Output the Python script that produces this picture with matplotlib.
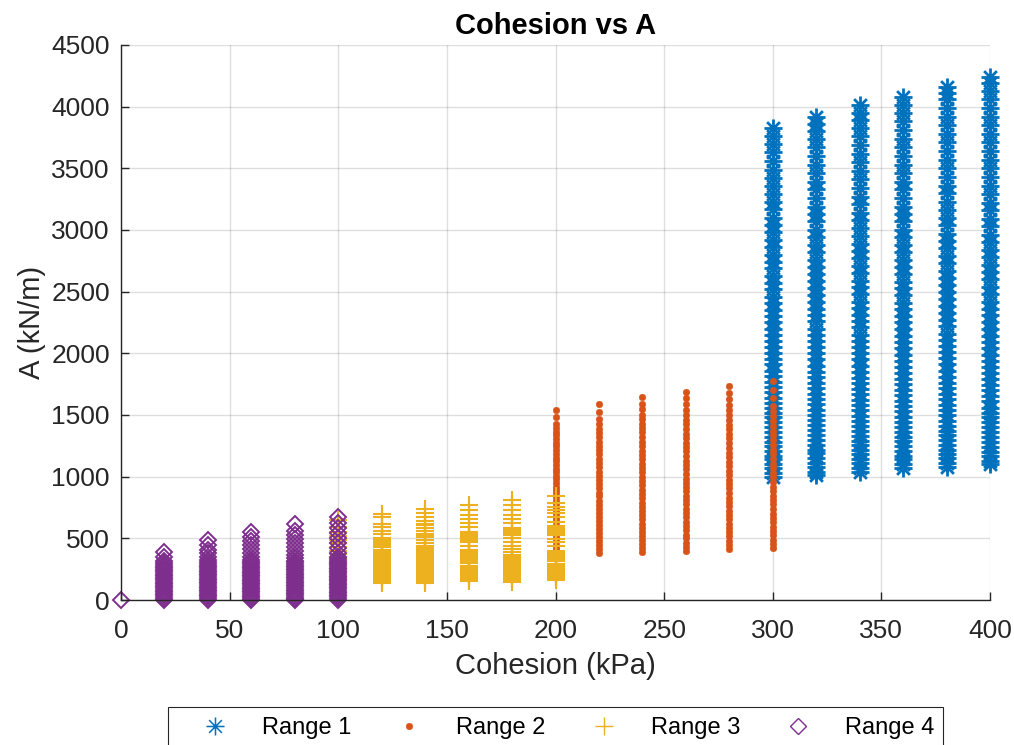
import matplotlib
matplotlib.use("Agg")
import matplotlib.pyplot as plt
from matplotlib.path import Path
from matplotlib.patches import Rectangle

plt.rcParams['font.family'] = ['Liberation Sans', 'DejaVu Sans']

# Range 1 (c = 300..400 kPa)
r1_c = [300, 320, 340, 360, 380, 400]
r1_a = [
    [1000, 1030, 1070, 1100, 1140, 1170, 1210, 1250, 1280, 1320, 1360, 1400, 1440, 1480, 1520,
     1560, 1600, 1640, 1690, 1730, 1770, 1820, 1860, 1910, 1950, 2000, 2050, 2100, 2150, 2200,
     2250, 2300, 2350, 2410, 2460, 2520, 2570, 2630, 2690, 2740, 2800, 2860, 2920, 2980, 3040,
     3100, 3170, 3230, 3290, 3360, 3420, 3490, 3560, 3630, 3700, 3760, 3830],
    [1010, 1040, 1080, 1110, 1150, 1190, 1220, 1260, 1300, 1340, 1380, 1420, 1460, 1500, 1540,
     1590, 1630, 1670, 1720, 1760, 1810, 1850, 1900, 1950, 2000, 2050, 2100, 2150, 2200, 2260,
     2310, 2360, 2420, 2470, 2530, 2590, 2640, 2700, 2760, 2820, 2880, 2940, 3000, 3070, 3130,
     3190, 3260, 3330, 3390, 3460, 3530, 3600, 3670, 3740, 3800, 3860, 3920],
    [1040, 1070, 1110, 1140, 1180, 1220, 1260, 1290, 1330, 1370, 1410, 1450, 1490, 1540, 1580,
     1620, 1670, 1710, 1760, 1800, 1850, 1900, 1950, 2000, 2050, 2100, 2150, 2210, 2260, 2310,
     2370, 2420, 2480, 2540, 2590, 2650, 2710, 2770, 2830, 2890, 2950, 3020, 3080, 3140, 3210,
     3270, 3340, 3410, 3480, 3550, 3620, 3690, 3760, 3830, 3890, 3950, 4010],
    [1070, 1100, 1140, 1170, 1210, 1250, 1290, 1320, 1360, 1400, 1440, 1480, 1530, 1570, 1610,
     1660, 1700, 1750, 1790, 1840, 1890, 1940, 1990, 2040, 2090, 2140, 2200, 2250, 2300, 2360,
     2410, 2470, 2530, 2580, 2640, 2700, 2760, 2820, 2880, 2940, 3000, 3070, 3130, 3190, 3260,
     3330, 3390, 3460, 3530, 3600, 3670, 3740, 3810, 3880, 3950, 4010, 4080],
    [1080, 1110, 1150, 1180, 1220, 1260, 1300, 1340, 1370, 1410, 1450, 1500, 1540, 1580, 1630,
     1670, 1720, 1760, 1810, 1860, 1910, 1960, 2010, 2060, 2110, 2160, 2220, 2270, 2330, 2380,
     2440, 2500, 2550, 2610, 2670, 2730, 2790, 2850, 2910, 2970, 3040, 3100, 3160, 3230, 3300,
     3360, 3430, 3500, 3570, 3640, 3710, 3780, 3850, 3920, 3990, 4060, 4110, 4160],
    [1100, 1130, 1170, 1200, 1240, 1280, 1320, 1360, 1400, 1440, 1480, 1520, 1560, 1610, 1650,
     1700, 1740, 1790, 1840, 1890, 1940, 1990, 2040, 2090, 2140, 2200, 2250, 2310, 2360, 2420,
     2480, 2540, 2600, 2660, 2720, 2780, 2840, 2900, 2960, 3030, 3090, 3160, 3220, 3290, 3360,
     3430, 3500, 3570, 3640, 3710, 3780, 3850, 3920, 3990, 4060, 4130, 4190, 4240],
]

# Range 2 (c = 200..300 kPa)
r2_c = [200, 220, 240, 260, 280, 300]
r2_a = [
    [370, 395, 420, 450, 475, 500, 530, 555, 585, 610, 640, 665, 695, 720, 750, 780, 805, 835,
     865, 890, 920, 950, 980, 1005, 1035, 1065, 1095, 1125, 1155, 1185, 1215, 1245, 1275, 1305,
     1335, 1365, 1395, 1430, 1485, 1538],
    [380, 410, 445, 475, 510, 540, 575, 605, 640, 670, 705, 740, 770, 805, 840, 870, 905, 940,
     975, 1005, 1040, 1075, 1110, 1145, 1180, 1215, 1250, 1285, 1320, 1355, 1390, 1425, 1467,
     1521, 1586],
    [388, 420, 455, 485, 520, 555, 585, 620, 655, 690, 720, 755, 790, 825, 860, 895, 930, 965,
     1000, 1035, 1070, 1105, 1140, 1175, 1210, 1250, 1285, 1320, 1360, 1395, 1430, 1465, 1500,
     1545, 1592, 1643],
    [397, 430, 465, 500, 530, 565, 600, 635, 670, 705, 740, 775, 810, 845, 880, 915, 950, 985,
     1020, 1060, 1095, 1130, 1165, 1205, 1240, 1275, 1315, 1350, 1390, 1425, 1460, 1500, 1540,
     1590, 1635, 1683],
    [413, 445, 480, 515, 550, 585, 620, 655, 690, 725, 760, 795, 830, 865, 905, 940, 975, 1010,
     1050, 1085, 1120, 1160, 1195, 1235, 1270, 1310, 1345, 1385, 1420, 1460, 1500, 1540, 1585,
     1630, 1680, 1732],
    [421, 455, 490, 525, 560, 595, 630, 665, 700, 740, 775, 810, 845, 885, 920, 955, 995, 1030,
     1070, 1105, 1145, 1180, 1220, 1255, 1295, 1335, 1370, 1410, 1450, 1490, 1530, 1574, 1634,
     1702, 1772],
]

# Range 3 (c = 100..200 kPa)
r3_c = [100, 120, 140, 160, 180, 200]
r3_a = [
    [130, 160, 190, 220, 250, 280, 310, 340, 370, 400, 430, 460, 490, 520, 553, 594, 648],
    [697, 670, 616, 589, 559, 532, 505, 492, 479, 466, 452, 438, 428, 408, 395, 381, 368, 354,
     340, 326, 313, 299, 285, 271, 258, 244, 230, 216, 203, 189, 175, 161, 150, 140],
    [737, 702, 670, 643, 620, 612, 586, 562, 532, 520, 513, 486, 459, 440, 424, 411, 398, 384,
     370, 356, 343, 329, 315, 302, 288, 274, 260, 247, 233, 219, 206, 192, 178, 165, 152, 140],
    [770, 729, 689, 654, 627, 594, 554, 541, 527, 514, 500, 486, 467, 440, 405, 392, 378, 364,
     351, 337, 324, 310, 297, 278, 265, 251, 237, 224, 210, 196, 183, 170, 156],
    [810, 770, 729, 689, 654, 627, 586, 572, 558, 544, 527, 500, 467, 440, 413, 386, 365, 352,
     338, 324, 311, 297, 283, 270, 256, 242, 229, 215, 201, 188, 174, 162, 149],
    [845, 789, 756, 729, 702, 670, 635, 600, 587, 573, 560, 546, 540, 527, 494, 467, 440, 397,
     384, 370, 356, 343, 329, 316, 292, 279, 265, 251, 238, 224, 210, 197, 183, 170, 162],
]

# Range 4 (c = 0..100 kPa)
r4_c = [0, 20, 40, 60, 80, 100]
r4_a = [
    [0],
    [386, 351, 319, 297, 283, 270, 258, 245, 232, 219, 206, 193, 180, 167, 154, 141, 128, 115,
     102, 89, 76, 63, 50, 37, 24, 12, 0],
    [486, 446, 405, 378, 351, 324, 305, 290, 277, 264, 251, 238, 225, 212, 199, 186, 173, 160,
     147, 134, 121, 108, 95, 82, 69, 56, 43, 30, 15, 0],
    [554, 513, 481, 446, 411, 378, 350, 325, 310, 296, 283, 270, 257, 244, 231, 218, 205, 192,
     179, 166, 153, 140, 127, 114, 101, 88, 75, 62, 49, 36, 23, 11, 0],
    [616, 562, 527, 492, 459, 427, 400, 365, 340, 320, 306, 292, 279, 266, 253, 240, 227, 214,
     201, 188, 175, 162, 149, 136, 123, 110, 97, 84, 71, 58, 45, 32, 19, 8, 0],
    [675, 621, 581, 540, 500, 459, 419, 378, 350, 330, 316, 302, 289, 276, 263, 250, 237, 224,
     211, 198, 185, 172, 159, 146, 133, 120, 107, 94, 81, 68, 55, 42, 29, 16, 0],
]

labels = ['Range 1', 'Range 2', 'Range 3', 'Range 4']


def flatten(cols, vals):
    xs, ys = [], []
    for c, v in zip(cols, vals):
        xs += [c] * len(v)
        ys += v
    return xs, ys


# matlab-style asterisk: 8 spokes
d = 0.7071
asterisk = Path([(-1, 0), (1, 0), (0, -1), (0, 1), (-d, -d), (d, d), (-d, d), (d, -d)],
                [Path.MOVETO, Path.LINETO] * 4)

fig = plt.figure(figsize=(10.14, 7.45), dpi=100)
ax = fig.add_axes([121 / 1014, 1 - 600 / 745, 869 / 1014, 555 / 745])

x1, y1 = flatten(r1_c, r1_a)
ax.plot(x1, y1, ls='none', marker=asterisk, ms=13, mew=2.0, mec='#0072BD', mfc='none',
        clip_on=False, label=labels[0])
x2, y2 = flatten(r2_c, r2_a)
ax.plot(x2, y2, ls='none', marker='o', ms=4.8, mew=0.3, mec='#D95319', mfc='#D95319',
        clip_on=False, label=labels[1])
x3, y3 = flatten(r3_c, r3_a)
ax.plot(x3, y3, ls='none', marker='+', ms=12.5, mew=1.5, mec='#EDB120',
        clip_on=False, label=labels[2])
x4, y4 = flatten(r4_c, r4_a)
ax.plot(x4, y4, ls='none', marker='D', ms=8.5, mew=1.4, mec='#7E2F8E', mfc='none',
        clip_on=False, label=labels[3])

ax.set_xlim(0, 400)
ax.set_ylim(0, 4500)
ax.set_xticks(range(0, 401, 50))
ax.set_yticks(range(0, 4501, 500))
ax.set_axisbelow(True)
ax.grid(True, color='#262626', alpha=0.15, lw=1.0)
for s in ['top', 'right']:
    ax.spines[s].set_visible(False)
for s in ['left', 'bottom']:
    ax.spines[s].set_color('#262626')
    ax.spines[s].set_linewidth(1.0)
ax.tick_params(direction='in', length=6, width=1.0, colors='#262626', labelsize=19)
ax.tick_params(axis='x', pad=14)
ax.tick_params(axis='y', pad=8)

ax.set_xlabel('Cohesion (kPa)', fontsize=21, color='#262626', labelpad=6)
ax.set_ylabel('A (kN/m)', fontsize=21, color='#262626', labelpad=4)
ax.set_title('Cohesion vs A', fontsize=21, fontweight='bold', pad=8)

# legend below the axes, frame drawn separately so it runs off the bottom edge
leg = fig.legend(loc='center left', bbox_to_anchor=(191 / 1014, 1 - 728 / 745), ncol=4,
                 frameon=False, fontsize=17, handlelength=2.0, handletextpad=1.0,
                 columnspacing=1.45, borderpad=0, borderaxespad=0)
leg.legend_handles[0].set_markeredgewidth(1.1)
leg.legend_handles[2].set_markeredgewidth(1.0)
leg.legend_handles[3].set_markeredgewidth(1.0)
fig.add_artist(Rectangle((168 / 1014, -0.05), 775 / 1014, 0.05 + 1 - 707 / 745,
                         transform=fig.transFigure, fill=False, ec='#262626', lw=0.8))

fig.savefig('out.png', dpi=100)
